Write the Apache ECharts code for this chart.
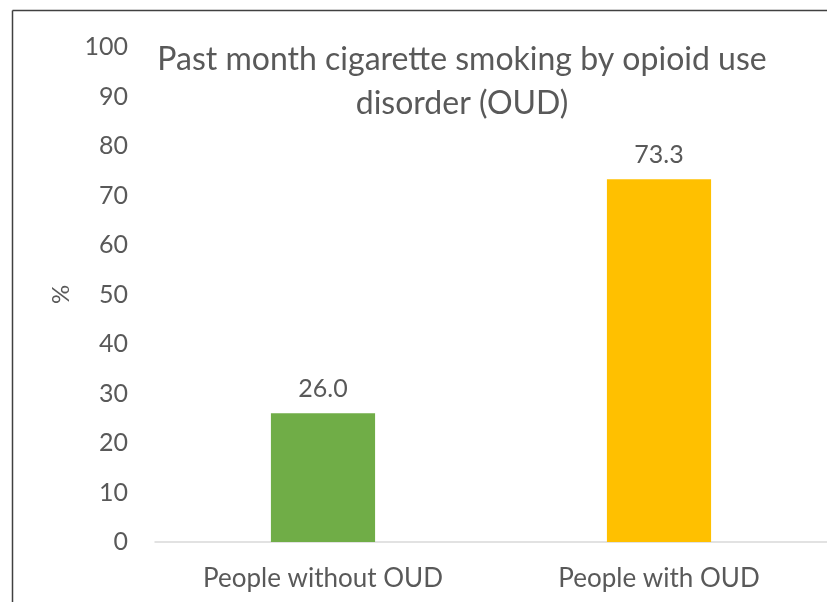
<!DOCTYPE html>
<html>
<head>
<meta charset="utf-8">
<script src="https://cdn.jsdelivr.net/npm/echarts@6/dist/echarts.min.js"></script>
<style>
  html, body { margin: 0; padding: 0; background: #fff; }
  #chart { width: 827px; height: 602px; }
</style>
</head>
<body>
<div id="chart"></div>
<script>
// Past-month cigarette smoking, by OUD status (percent)
const categories = ['People without OUD', 'People with OUD'];
const smokingPct = [26.0, 73.3];
const barColors = ['#70AD47', '#FFC000'];
const titleLines = ['Past month cigarette smoking by opioid use', 'disorder (OUD)'];
const yAxisName = '%';

const FONT = 'Lato, "Open Sans", sans-serif';
const TEXT = '#595959';

const chart = echarts.init(document.getElementById('chart'), null, { renderer: 'canvas' });

chart.setOption({
  backgroundColor: '#ffffff',
  animation: false,
  title: {
    text: titleLines.join('\n'),
    left: 457,
    top: 33,
    textAlign: 'center',
    textStyle: {
      fontFamily: FONT,
      fontSize: 32,
      fontWeight: 'normal',
      color: TEXT,
      lineHeight: 44
    }
  },
  grid: {
    left: 155,
    right: 0,
    top: 47,
    bottom: 60,
    containLabel: false
  },
  xAxis: {
    type: 'category',
    data: categories,
    axisTick: { show: false },
    axisLine: { lineStyle: { color: '#D9D9D9', width: 1.5 } },
    axisLabel: {
      color: TEXT,
      fontFamily: FONT,
      fontSize: 26,
      margin: 24
    }
  },
  yAxis: {
    type: 'value',
    min: 0,
    max: 100,
    interval: 10,
    name: yAxisName,
    nameLocation: 'middle',
    nameGap: 82,
    nameRotate: 90,
    nameTextStyle: { color: TEXT, fontFamily: FONT, fontSize: 24 },
    axisLine: { show: false },
    axisTick: { show: false },
    splitLine: { show: false },
    axisLabel: {
      color: TEXT,
      fontFamily: FONT,
      fontSize: 25,
      margin: 27
    }
  },
  series: [{
    type: 'bar',
    barWidth: '31%',
    data: smokingPct.map((v, i) => ({ value: v, itemStyle: { color: barColors[i] } })),
    label: {
      show: true,
      position: 'top',
      distance: 12,
      color: TEXT,
      fontFamily: FONT,
      fontSize: 25,
      formatter: p => p.value.toFixed(1)
    }
  }],
  graphic: [
    { type: 'line', shape: { x1: 12.5, y1: 10.5, x2: 827, y2: 10.5 }, style: { stroke: '#404040', lineWidth: 1.5 }, silent: true },
    { type: 'line', shape: { x1: 12.5, y1: 10.5, x2: 12.5, y2: 602 }, style: { stroke: '#404040', lineWidth: 1.5 }, silent: true }
  ]
});
</script>
</body>
</html>
